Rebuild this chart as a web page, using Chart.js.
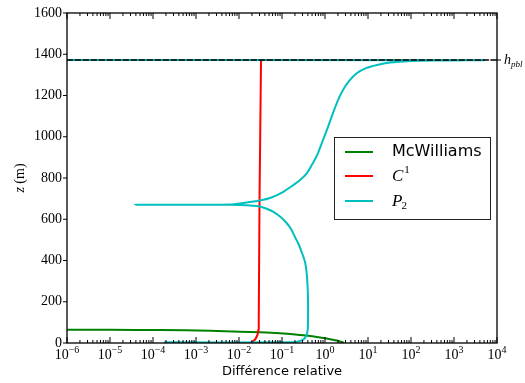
<!DOCTYPE html>
<html><head><meta charset="utf-8">
<script src="https://cdn.jsdelivr.net/npm/chart.js@4/dist/chart.umd.min.js"></script>
<style>html,body{margin:0;padding:0;background:#fff;overflow:hidden}#wrap{width:525px;height:383px}</style>
</head><body><div id="wrap"><canvas id="c" width="525" height="383"></canvas></div>
<script>
// ---- data ----
const xTickExponents = [-6, -5, -4, -3, -2, -1, 0, 1, 2, 3, 4];
const yTickValues = [0, 200, 400, 600, 800, 1000, 1200, 1400, 1600];
const hpbl = 1372;
const seriesNames = ['McWilliams', 'C', 'P'];

const mcwDiff = [1e-9, 1e-6, 1e-5, 1.46e-4, 2.12e-3, 0.0105, 0.0308, 0.0898, 0.262, 0.448, 0.766, 1.31, 2.0, 2.62];
const mcwZ    = [65,   64.5, 64,   63,      59.6,    54.8,   51.9,   47,     38.8,  33.9,  26.7,  18.4, 10.7, 2.4];

const c1Diff = [0.018, 0.0212, 0.0242, 0.0269, 0.0281, 0.0288, 0.030, 0.0325, 0.033, 4.48];
const c1Z    = [0,     7,      19.4,   38.8,   63,     111,    693,   1366,   1372,  1372];

const p2Diff = [1.9e-4, 0.18, 0.262, 0.325, 0.372, 0.396, 0.403, 0.403, 0.392, 0.375, 0.343, 0.287, 0.242, 0.200, 0.162, 0.128,
                0.0898, 0.0617, 0.0425, 0.0308, 0.018, 0.0105, 0.0062, 3.8e-5,
                0.0062, 0.018, 0.0308, 0.0526, 0.105, 0.171, 0.262, 0.381, 0.526, 0.687, 0.898, 1.17, 1.53, 2.01, 2.62,
                3.61, 5.55, 8.98, 16.2, 32.5, 55.5, 162, 807, 4720, 1e-9];
const p2Z    = [3.4,    3.4,  9.7,   19.4,  38.8,  63,    111.5, 208.5, 281,   339,   393,   441,   480,   514,   553,   582,
                613,    637,    652,    662,    667,   669,    670,    670.5,
                671.5,  683.6, 691,    703,    732,   761,   790,   824,   873,   921,   984,   1047, 1115, 1178, 1227,
                1270, 1309, 1333, 1348, 1360, 1364, 1368, 1370, 1371.5, 1372];

const hpblDiff = [1e-6, 1e4];
const hpblZ = [hpbl, hpbl];

function pts(xs, zs) { return xs.map((x, i) => ({x: x, y: zs[i]})); }

const SERIF = '"Liberation Serif", "DejaVu Serif", serif';
const SANS = '"DejaVu Sans", sans-serif';

const axesPlugin = {
  id: 'axesPlugin',
  afterDraw(chart) {
    const ctx = chart.ctx, a = chart.chartArea, xs = chart.scales.x, ys = chart.scales.y;
    ctx.save();
    ctx.strokeStyle = '#000';
    ctx.fillStyle = '#000';
    ctx.lineWidth = 1.3;
    ctx.strokeRect(a.left, a.top, a.right - a.left, a.bottom - a.top);
    ctx.lineWidth = 1;
    xTickExponents.forEach((e, idx) => {
      const px = xs.getPixelForValue(Math.pow(10, e));
      ctx.beginPath();
      ctx.moveTo(px, a.bottom); ctx.lineTo(px, a.bottom - 6);
      ctx.moveTo(px, a.top); ctx.lineTo(px, a.top + 6);
      ctx.stroke();
      if (idx < xTickExponents.length - 1) {
        for (let k = 2; k <= 9; k++) {
          const mx = xs.getPixelForValue(k * Math.pow(10, e));
          ctx.beginPath();
          ctx.moveTo(mx, a.bottom); ctx.lineTo(mx, a.bottom - 3);
          ctx.moveTo(mx, a.top); ctx.lineTo(mx, a.top + 3);
          ctx.stroke();
        }
      }
      const base = '10', exp = (e < 0 ? '\u2212' : '') + Math.abs(e);
      ctx.font = '14px ' + SERIF;
      const wb = ctx.measureText(base).width;
      ctx.font = '10px ' + SERIF;
      const we = ctx.measureText(exp).width;
      const x0 = px - (wb + we) / 2;
      ctx.textAlign = 'left'; ctx.textBaseline = 'alphabetic';
      ctx.font = '14px ' + SERIF;
      ctx.fillText(base, x0, a.bottom + 16);
      ctx.font = '10px ' + SERIF;
      ctx.fillText(exp, x0 + wb, a.bottom + 10);
    });
    ctx.font = '14px ' + SERIF;
    ctx.textAlign = 'right'; ctx.textBaseline = 'middle';
    yTickValues.forEach(v => {
      const py = ys.getPixelForValue(v);
      ctx.beginPath();
      ctx.moveTo(a.left - 4, py); ctx.lineTo(a.left, py);
      ctx.stroke();
      ctx.fillText(String(v), a.left - 5, py);
    });
    const ph = ys.getPixelForValue(hpbl);
    ctx.beginPath(); ctx.moveTo(a.right, ph); ctx.lineTo(a.right + 4, ph); ctx.stroke();
    ctx.textAlign = 'left'; ctx.textBaseline = 'alphabetic';
    ctx.font = 'italic 14px ' + SERIF;
    ctx.fillText('h', a.right + 7, ph + 4);
    const wh = ctx.measureText('h').width;
    ctx.font = 'italic 9px ' + SERIF;
    ctx.fillText('pbl', a.right + 7 + wh, ph + 7);
    ctx.font = '13px ' + SANS;
    ctx.textAlign = 'center'; ctx.textBaseline = 'middle';
    ctx.fillText('Différence relative', (a.left + a.right) / 2, 372);
    ctx.save();
    ctx.translate(20, (a.top + a.bottom) / 2);
    ctx.rotate(-Math.PI / 2);
    ctx.font = 'italic 14px ' + SERIF;
    const wz = ctx.measureText('z').width;
    ctx.font = '14px ' + SERIF;
    const wm = ctx.measureText(' (m)').width;
    ctx.textAlign = 'left'; ctx.textBaseline = 'middle';
    ctx.font = 'italic 14px ' + SERIF;
    ctx.fillText('z', -(wz + wm) / 2, 0);
    ctx.font = '14px ' + SERIF;
    ctx.fillText(' (m)', -(wz + wm) / 2 + wz, 0);
    ctx.restore();
    // legend
    const lx = 334, ly = 137, lw = 156, lh = 82;
    ctx.fillStyle = '#fff';
    ctx.fillRect(lx, ly, lw, lh);
    ctx.strokeStyle = '#222';
    ctx.lineWidth = 1;
    ctx.strokeRect(lx + 0.5, ly + 0.5, lw, lh);
    const rows = [152, 176, 201];
    const cols = chart.data.datasets.slice(1).reverse().map(d => d.borderColor);
    rows.forEach((ry, i) => {
      ctx.strokeStyle = cols[i];
      ctx.lineWidth = 2;
      ctx.beginPath(); ctx.moveTo(345, ry); ctx.lineTo(373, ry); ctx.stroke();
    });
    ctx.fillStyle = '#000';
    ctx.textAlign = 'left'; ctx.textBaseline = 'middle';
    ctx.font = '16px ' + SANS;
    ctx.fillText(seriesNames[0], 392, rows[0]);
    ctx.font = 'italic 17px ' + SERIF;
    ctx.fillText(seriesNames[1], 392, rows[1] + 1);
    let w1 = ctx.measureText(seriesNames[1]).width;
    ctx.font = '11px ' + SERIF;
    ctx.fillText('1', 392 + w1 + 1, rows[1] - 6);
    ctx.font = 'italic 17px ' + SERIF;
    ctx.fillText(seriesNames[2], 392, rows[2] + 1);
    let w2 = ctx.measureText(seriesNames[2]).width;
    ctx.font = '11px ' + SERIF;
    ctx.fillText('2', 392 + w2 - 1, rows[2] + 5);
    ctx.restore();
  }
};

new Chart(document.getElementById('c'), {
  type: 'line',
  data: {
    datasets: [
      {label: 'hpbl', data: pts(hpblDiff, hpblZ), borderColor: '#000', borderWidth: 1.5, borderDash: [5.5, 2.5], order: 0, tension: 0},
      {label: 'P2', data: pts(p2Diff, p2Z), borderColor: '#00BFBF', borderWidth: 2, order: 1, tension: 0.25},
      {label: 'C1', data: pts(c1Diff, c1Z), borderColor: '#FF0000', borderWidth: 2, order: 2, tension: 0},
      {label: 'McWilliams', data: pts(mcwDiff, mcwZ), borderColor: '#008000', borderWidth: 2, order: 3, tension: 0.25}
    ]
  },
  options: {
    responsive: false,
    animation: false,
    devicePixelRatio: 1,
    elements: {point: {radius: 0, hoverRadius: 0}, line: {fill: false, borderJoinStyle: 'round', borderCapStyle: 'round'}},
    layout: {padding: {top: 13, right: 28, left: 0, bottom: 0}},
    plugins: {legend: {display: false}, tooltip: {enabled: false}},
    scales: {
      x: {type: 'logarithmic', min: 1e-6, max: 1e4, ticks: {display: false}, grid: {display: false}, border: {display: false},
          afterFit(s) { s.height = 40; }},
      y: {type: 'linear', min: 0, max: 1600, ticks: {display: false}, grid: {display: false}, border: {display: false},
          afterFit(s) { s.width = 67; }}
    }
  },
  plugins: [axesPlugin]
});
</script></body></html>
